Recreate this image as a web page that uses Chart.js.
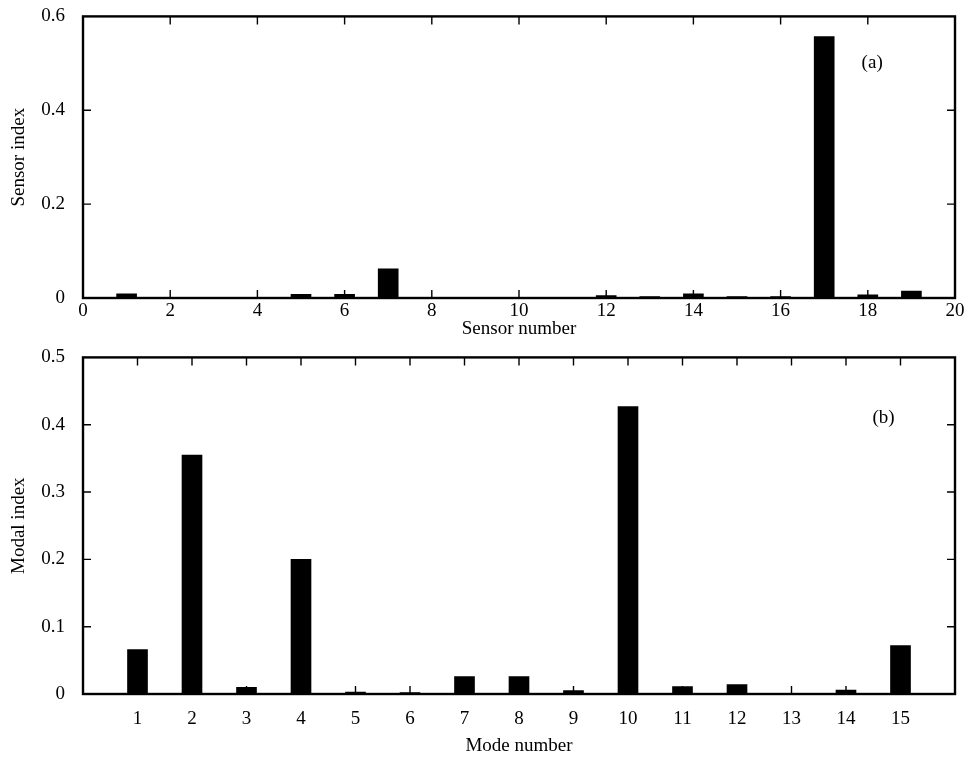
<!DOCTYPE html>
<html>
<head>
<meta charset="utf-8">
<script src="https://cdn.jsdelivr.net/npm/chart.js@4.4.1/dist/chart.umd.min.js"></script>
<style>
  body { margin: 0; background: #fff; overflow: hidden; }
  .box { position: absolute; left: 0; width: 975px; }
  #top { top: -5px; height: 350px; }
  #bot { top: 336px; height: 427px; }
</style>
</head>
<body>
<div class="box" id="top"><canvas id="chartA"></canvas></div>
<div class="box" id="bot"><canvas id="chartB"></canvas></div>
<script>
"use strict"

// (a) sensor index
const sensorNumbers = [1,2,3,4,5,6,7,8,9,10,11,12,13,14,15,16,17,18,19];
const sensorIndex = [0.009,0,0,0,0.008,0.008,0.062,0,0,0,0,0.005,0.003,0.009,0.003,0.003,0.557,0.007,0.015];
const sensorTicks = [0,2,4,6,8,10,12,14,16,18,20];
const sensorYTicks = [0,0.2,0.4,0.6];

// (b) modal index
const modeNumbers = [1,2,3,4,5,6,7,8,9,10,11,12,13,14,15];
const modalIndex = [0.066,0.355,0.01,0.2,0.003,0.002,0.026,0.026,0.005,0.427,0.011,0.014,0,0.006,0.072];
const modeTicks = [1,2,3,4,5,6,7,8,9,10,11,12,13,14,15];
const modalYTicks = [0,0.1,0.2,0.3,0.4,0.5];

const serif = "'Liberation Serif', 'DejaVu Serif', serif";
const fsize = 19;

// frame + inward ticks on all four sides
const framePlugin = {
  id: 'frame',
  afterDraw(chart, args, opts) {
    const ctx = chart.ctx;
    const a = chart.chartArea;
    const xs = chart.scales.x, ys = chart.scales.y;
    ctx.save();
    ctx.strokeStyle = '#000';
    ctx.lineWidth = 1.4;
    xs.ticks.forEach(t => {
      const px = xs.getPixelForValue(t.value);
      if (px <= a.left + 1 || px >= a.right - 1) return;
      ctx.beginPath();
      ctx.moveTo(px, a.bottom); ctx.lineTo(px, a.bottom - 8);
      ctx.moveTo(px, a.top); ctx.lineTo(px, a.top + 8);
      ctx.stroke();
    });
    ys.ticks.forEach(t => {
      const py = ys.getPixelForValue(t.value);
      if (py <= a.top + 1 || py >= a.bottom - 1) return;
      ctx.beginPath();
      ctx.moveTo(a.left, py); ctx.lineTo(a.left + 8, py);
      ctx.moveTo(a.right, py); ctx.lineTo(a.right - 8, py);
      ctx.stroke();
    });
    ctx.lineWidth = 2.4;
    ctx.strokeRect(a.left, a.top, a.right - a.left, a.bottom - a.top);
    ctx.fillStyle = '#000';
    ctx.font = fsize + "px " + serif;
    ctx.textAlign = 'center';
    ctx.textBaseline = 'middle';
    ctx.fillText(opts.tag, a.left + (a.right - a.left) * opts.fx, a.top + (a.bottom - a.top) * opts.fy);
    ctx.restore();
  }
};

function makeChart(id, xs, ys, xmin, xmax, xTicks, yTicks, xTitle, yTitle, tag, fx, fy, xHeight, tickPad, titlePad, pad) {
  return new Chart(document.getElementById(id).getContext('2d'), {
    type: 'bar',
    data: {
      datasets: [{
        data: xs.map((x, i) => ({x: x, y: ys[i]})),
        backgroundColor: '#000',
        borderWidth: 0,
        barThickness: 20
      }]
    },
    options: {
      responsive: true,
      maintainAspectRatio: false,
      animation: false,
      layout: { padding: pad },
      plugins: { legend: { display: false }, tooltip: { enabled: false }, frame: { tag: tag, fx: fx, fy: fy } },
      scales: {
        x: {
          type: 'linear', min: xmin, max: xmax, offset: false,
          afterBuildTicks: s => { s.ticks = xTicks.map(v => ({value: v})); },
          afterFit: s => { s.height = xHeight; },
          grid: { display: false, drawTicks: false }, border: { display: false },
          ticks: { color: '#000', font: { family: serif, size: fsize }, padding: tickPad, maxRotation: 0,
                   callback: v => String(v) },
          title: { display: true, text: xTitle, color: '#000', font: { family: serif, size: fsize },
                   padding: { top: 0, bottom: titlePad } }
        },
        y: {
          min: 0, max: yTicks[yTicks.length - 1],
          afterBuildTicks: s => { s.ticks = yTicks.map(v => ({value: v})); },
          afterFit: s => { s.width = 83 - pad.left; },
          grid: { display: false }, border: { display: false },
          ticks: { color: '#000', font: { family: serif, size: fsize }, padding: 10,
                   callback: v => String(v) },
          title: { display: true, text: yTitle, color: '#000', font: { family: serif, size: fsize }, padding: { bottom: 2 } }
        }
      }
    },
    plugins: [framePlugin]
  });
}

makeChart('chartA', sensorNumbers, sensorIndex, 0, 20, sensorTicks, sensorYTicks,
  'Sensor number', 'Sensor index', '(a)', 0.905, 0.165, 45, 2, 3, {top: 10, right: 20, bottom: 2, left: 4});
makeChart('chartB', modeNumbers, modalIndex, 0, 16, modeTicks, modalYTicks,
  'Mode number', 'Modal index', '(b)', 0.918, 0.18, 63, 14, 0, {top: 3, right: 20, bottom: 6, left: 4});
</script>
</body>
</html>
